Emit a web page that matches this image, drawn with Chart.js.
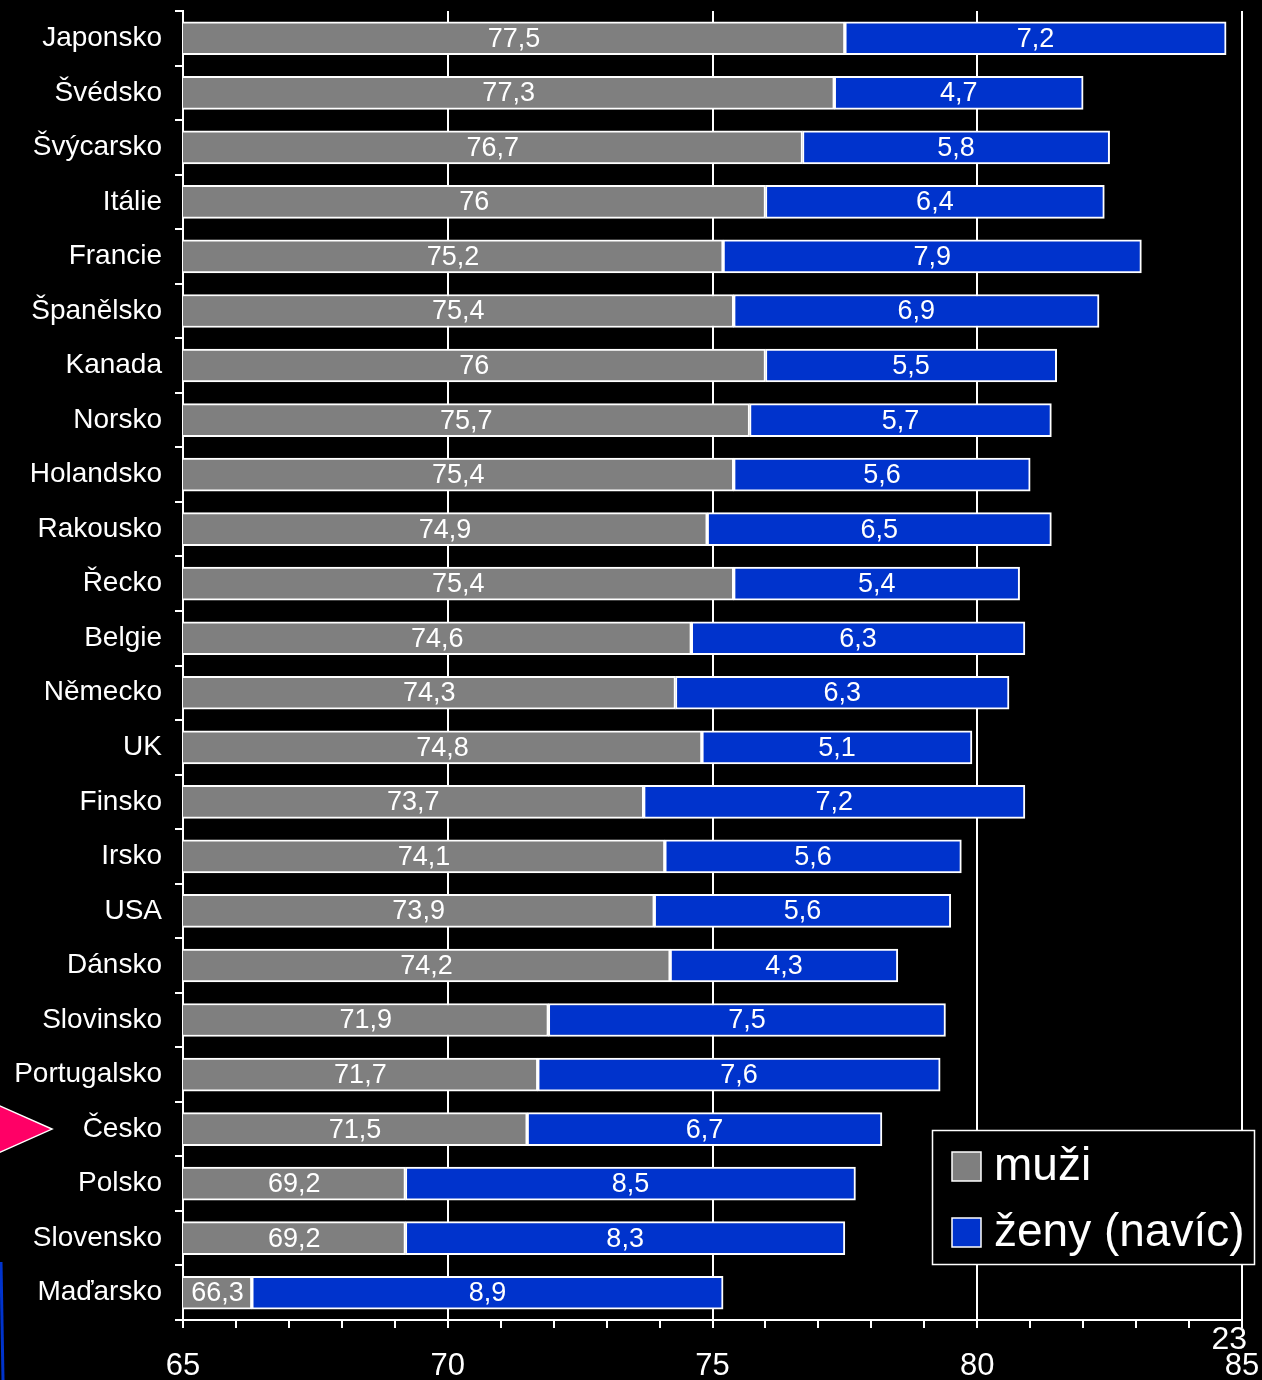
<!DOCTYPE html>
<html>
<head>
<meta charset="utf-8">
<title>Naděje dožití</title>
<script src="https://cdn.jsdelivr.net/npm/chart.js@4.4.1/dist/chart.umd.min.js"></script>
<style>
    html, body { margin: 0; padding: 0; background: #000; }
    canvas { display: block; background: #000; }
</style>
</head>
<body>
<canvas id="lifeChart" width="1262" height="1380"></canvas>
<script>
// Data
const countries = ['Japonsko', 'Švédsko', 'Švýcarsko', 'Itálie', 'Francie', 'Španělsko', 'Kanada',
    'Norsko', 'Holandsko', 'Rakousko', 'Řecko', 'Belgie', 'Německo', 'UK', 'Finsko', 'Irsko',
    'USA', 'Dánsko', 'Slovinsko', 'Portugalsko', 'Česko', 'Polsko', 'Slovensko', 'Maďarsko'];
const menValues = [77.5, 77.3, 76.7, 76, 75.2, 75.4, 76, 75.7, 75.4, 74.9, 75.4, 74.6, 74.3, 74.8,
    73.7, 74.1, 73.9, 74.2, 71.9, 71.7, 71.5, 69.2, 69.2, 66.3];
const womenExtra = [7.2, 4.7, 5.8, 6.4, 7.9, 6.9, 5.5, 5.7, 5.6, 6.5, 5.4, 6.3, 6.3, 5.1,
    7.2, 5.6, 5.6, 4.3, 7.5, 7.6, 6.7, 8.5, 8.3, 8.9];
const seriesNames = ['muži', 'ženy (navíc)'];
const xMin = 65;
const xMax = 85;
const majorStep = 5;
const highlighted = 'Česko';
const slideNumber = '23';

const GREY = '#7f7f7f';
const BLUE = '#0033cc';
const FONT = '"Liberation Sans", Arial, sans-serif';

Chart.defaults.font.family = FONT;
Chart.defaults.color = '#fff';

const fmt = v => String(v).replace('.', ',');

// Value labels centred on the visible part of each bar
const barLabels = {
    id: 'barLabels',
    afterDatasetsDraw(chart) {
        const { ctx, chartArea } = chart;
        ctx.save();
        ctx.font = '27px ' + FONT;
        ctx.fillStyle = '#fff';
        ctx.textAlign = 'center';
        ctx.textBaseline = 'middle';
        chart.data.datasets.forEach((ds, i) => {
            chart.getDatasetMeta(i).data.forEach((el, j) => {
                const { x, base, y } = el.getProps(['x', 'base', 'y'], true);
                const left = Math.max(Math.min(x, base), chartArea.left);
                const right = Math.max(x, base);
                ctx.fillText(fmt(ds.data[j]), (left + right) / 2, y + 1);
            });
        });
        ctx.restore();
    }
};

// Legend box, arrow and slide decorations
const decorations = {
    id: 'decorations',
    afterDraw(chart) {
        const { ctx } = chart;
        const yScale = chart.scales.y;
        ctx.save();

        // legend
        ctx.fillStyle = '#000';
        ctx.fillRect(932, 1130, 323, 135);
        ctx.strokeStyle = '#fff';
        ctx.lineWidth = 1.5;
        ctx.strokeRect(932.5, 1130.5, 322, 134);
        ctx.font = '46px ' + FONT;
        ctx.textBaseline = 'middle';
        ctx.textAlign = 'left';
        chart.data.datasets.forEach((ds, i) => {
            const cy = 1166 + i * 66;
            ctx.fillStyle = ds.backgroundColor;
            ctx.fillRect(952, cy - 14, 29, 29);
            ctx.strokeStyle = '#fff';
            ctx.lineWidth = 1.5;
            ctx.strokeRect(952, cy - 14, 29, 29);
            ctx.fillStyle = '#fff';
            ctx.fillText(ds.label, 994, cy + 1);
        });

        // pink arrow pointing at the highlighted country
        const ay = yScale.getPixelForValue(countries.indexOf(highlighted));
        ctx.beginPath();
        ctx.moveTo(-2, ay - 24);
        ctx.lineTo(52, ay);
        ctx.lineTo(-2, ay + 24);
        ctx.closePath();
        ctx.fillStyle = '#ff0066';
        ctx.fill();
        ctx.strokeStyle = '#fff';
        ctx.lineWidth = 1.5;
        ctx.stroke();

        // blue edge line at bottom left
        ctx.beginPath();
        ctx.moveTo(1, 1262);
        ctx.lineTo(3, 1380);
        ctx.strokeStyle = BLUE;
        ctx.lineWidth = 3;
        ctx.stroke();

        // slide number
        ctx.font = '32px ' + FONT;
        ctx.fillStyle = '#fff';
        ctx.textAlign = 'right';
        ctx.fillText(slideNumber, 1247, 1340);

        ctx.restore();
    }
};

const chart = new Chart(document.getElementById('lifeChart').getContext('2d'), {
    type: 'bar',
    data: {
        labels: countries,
        datasets: [
            {
                label: seriesNames[0],
                data: menValues,
                backgroundColor: GREY,
                borderColor: '#fff',
                borderWidth: 2,
                borderSkipped: false
            },
            {
                label: seriesNames[1],
                data: womenExtra,
                backgroundColor: BLUE,
                borderColor: '#fff',
                borderWidth: 2,
                borderSkipped: false
            }
        ]
    },
    options: {
        indexAxis: 'y',
        responsive: false,
        animation: false,
        barThickness: 33,
        categoryPercentage: 1,
        layout: {
            padding: { top: 11, right: 20, left: 0, bottom: 0 }
        },
        scales: {
            x: {
                stacked: true,
                min: xMin,
                max: xMax,
                border: { color: '#fff', width: 2 },
                grid: {
                    color: c => (c.tick && c.tick.value % majorStep === 0) ? '#fff' : 'transparent',
                    tickColor: '#fff',
                    lineWidth: 2,
                    tickLength: 8
                },
                ticks: {
                    stepSize: 1,
                    autoSkip: false,
                    maxRotation: 0,
                    padding: 20,
                    color: '#fff',
                    font: { size: 31 },
                    callback: v => v % majorStep === 0 ? String(v) : ''
                },
                afterFit: axis => {
                    axis.height = 60;
                    axis.paddingLeft = 0;
                    axis.paddingRight = 0;
                }
            },
            y: {
                stacked: true,
                border: { color: '#fff', width: 2 },
                grid: {
                    offset: true,
                    drawOnChartArea: false,
                    color: '#fff',
                    lineWidth: 2,
                    tickLength: 8
                },
                ticks: {
                    padding: 13,
                    color: '#fff',
                    font: { size: 28 }
                },
                afterFit: axis => {
                    axis.width = 183;
                    axis.paddingTop = 0;
                    axis.paddingBottom = 0;
                }
            }
        },
        plugins: {
            legend: { display: false },
            tooltip: { enabled: false }
        }
    },
    plugins: [barLabels, decorations]
});
</script>
</body>
</html>
